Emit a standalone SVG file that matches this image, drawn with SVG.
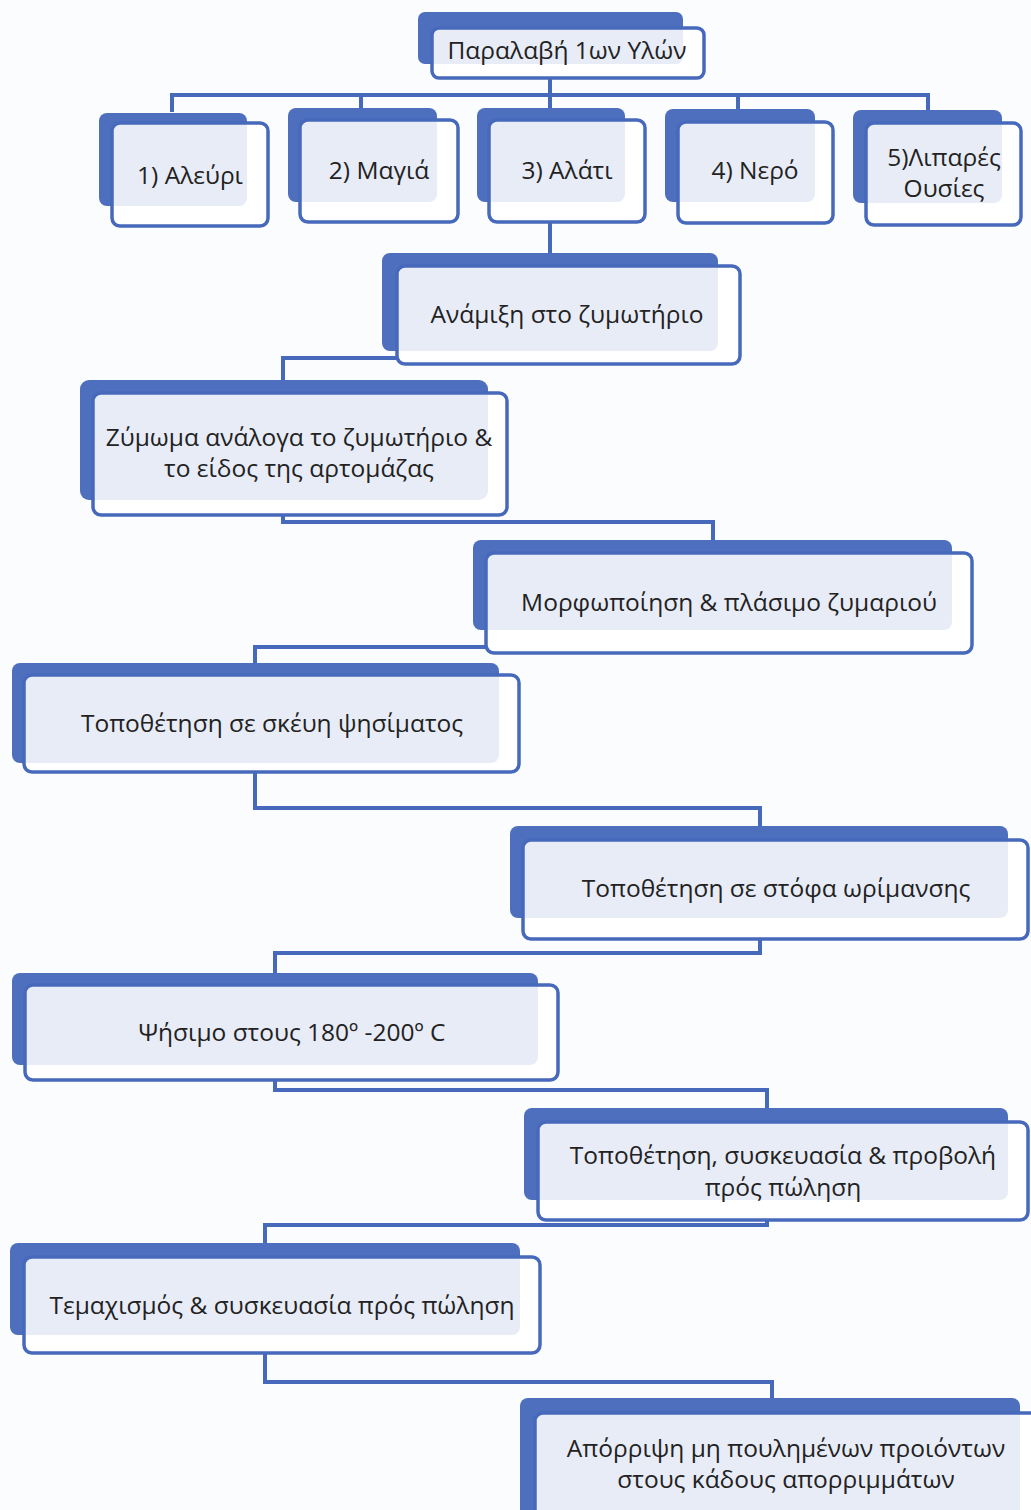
<svg xmlns="http://www.w3.org/2000/svg" width="1031" height="1510" viewBox="0 0 1031 1510">
<style>
.bg{fill:#fbfcfe}
.back{fill:#4d6fbd}
.front{fill:#ffffff;fill-opacity:0.87;stroke:#4769bb;stroke-width:3.5}
.conn{fill:none;stroke:#4769bb;stroke-width:4}
.t{font-family:"Open Sans","Noto Sans",sans-serif;font-size:24.5px;font-weight:500;fill:#222222;text-anchor:middle}
</style>
<rect class="bg" x="0" y="0" width="1031" height="1510"/>
<g id="connectors">
<path class="conn" d="M550,78 V95"/>
<path class="conn" d="M172,112 V95 H928 V112"/>
<path class="conn" d="M361,95 V108 M550,95 V108 M738,95 V109"/>
<path class="conn" d="M550,222 V253"/>
<path class="conn" d="M397,358 H283 V380"/>
<path class="conn" d="M283,515 V522 H713 V540"/>
<path class="conn" d="M486,647 H255 V663"/>
<path class="conn" d="M255,772 V808 H760 V826"/>
<path class="conn" d="M760,939 V953 H275 V973"/>
<path class="conn" d="M275,1080 V1090 H767 V1108"/>
<path class="conn" d="M767,1220 V1225 H265 V1243"/>
<path class="conn" d="M265,1353 V1382 H772 V1398"/>
</g>
<g id="n0">
<rect class="back" x="418" y="12" width="265" height="52" rx="7"/>
<rect class="front" x="432" y="28" width="272" height="50" rx="7"/>
<text class="t" x="567" y="59">Παραλαβή 1ων Υλών</text>
</g>
<g id="n1">
<rect class="back" x="99" y="113" width="148" height="93" rx="8"/>
<rect class="front" x="112" y="123" width="156" height="103" rx="8"/>
<text class="t" x="190" y="184">1) Αλεύρι</text>
</g>
<g id="n2">
<rect class="back" x="288" y="108" width="149" height="94" rx="8"/>
<rect class="front" x="300" y="120" width="158" height="102" rx="8"/>
<text class="t" x="379" y="179">2) Μαγιά</text>
</g>
<g id="n3">
<rect class="back" x="477" y="108" width="148" height="94" rx="8"/>
<rect class="front" x="489" y="120" width="156" height="102" rx="8"/>
<text class="t" x="567" y="179">3) Αλάτι</text>
</g>
<g id="n4">
<rect class="back" x="665" y="109" width="150" height="93" rx="8"/>
<rect class="front" x="678" y="122" width="155" height="101" rx="8"/>
<text class="t" x="755" y="179">4) Νερό</text>
</g>
<g id="n5">
<rect class="back" x="853" y="110" width="149" height="93" rx="8"/>
<rect class="front" x="866" y="123" width="155" height="102" rx="8"/>
<text class="t" x="944" y="166">5)Λιπαρές</text>
<text class="t" x="944" y="197">Ουσίες</text>
</g>
<g id="n6">
<rect class="back" x="382" y="253" width="336" height="98" rx="8"/>
<rect class="front" x="397" y="266" width="343" height="98" rx="8"/>
<text class="t" x="567" y="323">Ανάμιξη στο ζυμωτήριο</text>
</g>
<g id="n7">
<rect class="back" x="80" y="380" width="408" height="120" rx="9"/>
<rect class="front" x="93" y="393" width="414" height="122" rx="8"/>
<text class="t" x="299" y="446">Ζύμωμα ανάλογα το ζυμωτήριο &amp;</text>
<text class="t" x="299" y="477">το είδος της αρτομάζας</text>
</g>
<g id="n8">
<rect class="back" x="473" y="540" width="479" height="90" rx="8"/>
<rect class="front" x="486" y="553" width="486" height="100" rx="8"/>
<text class="t" x="729" y="611">Μορφωποίηση &amp; πλάσιμο ζυμαριού</text>
</g>
<g id="n9">
<rect class="back" x="12" y="663" width="487" height="100" rx="8"/>
<rect class="front" x="24" y="675" width="495" height="97" rx="8"/>
<text class="t" x="272" y="732">Τοποθέτηση σε σκέυη ψησίματος</text>
</g>
<g id="n10">
<rect class="back" x="510" y="826" width="498" height="92" rx="8"/>
<rect class="front" x="523" y="840" width="505" height="99" rx="8"/>
<text class="t" x="776" y="897">Τοποθέτηση σε στόφα ωρίμανσης</text>
</g>
<g id="n11">
<rect class="back" x="12" y="973" width="526" height="92" rx="8"/>
<rect class="front" x="25" y="985" width="533" height="95" rx="8"/>
<text class="t" x="292" y="1041">Ψήσιμο  στους 180º -200º C</text>
</g>
<g id="n12">
<rect class="back" x="524" y="1108" width="484" height="92" rx="8"/>
<rect class="front" x="538" y="1122" width="490" height="98" rx="8"/>
<text class="t" x="783" y="1164">Τοποθέτηση, συσκευασία &amp; προβολή</text>
<text class="t" x="783" y="1196">πρός πώληση</text>
</g>
<g id="n13">
<rect class="back" x="10" y="1243" width="510" height="92" rx="8"/>
<rect class="front" x="24" y="1257" width="516" height="96" rx="8"/>
<text class="t" x="282" y="1314">Τεμαχισμός &amp; συσκευασία πρός πώληση</text>
</g>
<g id="n14">
<rect class="back" x="520" y="1398" width="500" height="130" rx="8"/>
<rect class="front" x="535" y="1413" width="510" height="120" rx="8"/>
<text class="t" x="786" y="1457">Απόρριψη μη πουλημένων προιόντων</text>
<text class="t" x="786" y="1488">στους κάδους απορριμμάτων</text>
</g>
</svg>
